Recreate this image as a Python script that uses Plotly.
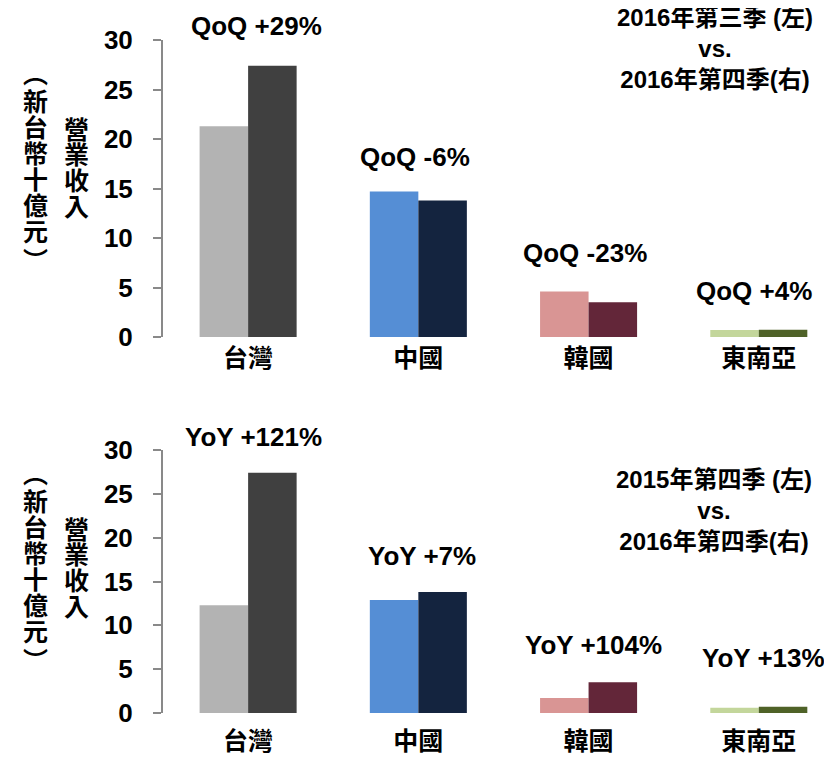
import plotly.graph_objects as go

categories = ["台灣", "中國", "韓國", "東南亞"]

# Top chart: 2016 Q3 (left) vs 2016 Q4 (right)
qoq_left = [21.3, 14.7, 4.6, 0.7]
qoq_right = [27.4, 13.8, 3.5, 0.72]
qoq_labels = ["QoQ +29%", "QoQ -6%", "QoQ -23%", "QoQ +4%"]

# Bottom chart: 2015 Q4 (left) vs 2016 Q4 (right)
yoy_left = [12.3, 12.9, 1.7, 0.6]
yoy_right = [27.4, 13.8, 3.5, 0.72]
yoy_labels = ["YoY +121%", "YoY +7%", "YoY +104%", "YoY +13%"]

yticks = [0, 5, 10, 15, 20, 25, 30]

left_colors = ["#b3b3b3", "#558ed5", "#d99594", "#c3d69b"]
right_colors = ["#404040", "#14243f", "#632639", "#4f6228"]

# The page body has an 8px default margin; lay out in screen pixels and convert.
OFF = 8
W, H = 832 - OFF, 759 - OFF
SL = 163                 # screen x of the y axis
L = SL - OFF
PW = W - L               # plot width in px
FONT = "Liberation Sans, Arial, Noto Sans CJK TC, sans-serif"

def py(s):
    return 1 - (s - OFF) / H

def px(s):
    return (s - SL) / PW

fig = go.Figure()
for lv, rv, xa, ya in [(qoq_left, qoq_right, "x", "y"), (yoy_left, yoy_right, "x2", "y2")]:
    fig.add_trace(go.Bar(x=categories, y=lv, marker=dict(color=left_colors, line=dict(width=0)),
                         xaxis=xa, yaxis=ya, showlegend=False, hoverinfo="skip"))
    fig.add_trace(go.Bar(x=categories, y=rv, marker=dict(color=right_colors, line=dict(width=0)),
                         xaxis=xa, yaxis=ya, showlegend=False, hoverinfo="skip"))

yax = dict(range=[0, 30], tickvals=yticks, showgrid=False, zeroline=False, automargin=False,
           showline=True, linecolor="#898989", linewidth=2,
           ticks="outside", ticklen=8, tickcolor="#898989", tickwidth=2,
           tickfont=dict(family=FONT, size=26, color="black", weight="bold"),
           ticklabelstandoff=15)
xrange = [-0.5, 3.43]
xax = dict(range=xrange, showgrid=False, zeroline=False, showline=False, ticks="",
           automargin=False,
           tickfont=dict(family=FONT, size=25, color="black", weight="bold"))

fig.update_layout(
    width=W, height=H,
    margin=dict(l=L, r=0, t=0, b=0),
    paper_bgcolor="white", plot_bgcolor="white",
    barmode="group", bargap=0.43, bargroupgap=0,
    xaxis=dict(xax, domain=[0, 1], anchor="y", ticklabelstandoff=4),
    yaxis=dict(yax, domain=[py(337), py(40)], anchor="x"),
    xaxis2=dict(xax, domain=[0, 1], anchor="y2", ticklabelstandoff=11),
    yaxis2=dict(yax, domain=[py(713), py(450)], anchor="x2"),
)

annfont = dict(family=FONT, size=26, color="black", weight="bold")
qoq_pos = [(0.05, 31.4), (0.98, 18.2), (1.98, 8.5), (2.97, 4.6)]
yoy_pos = [(0.03, 31.5), (1.02, 17.9), (2.03, 7.8), (3.03, 6.3)]
# Labels (some above the axis range) placed in paper coordinates, converted from axis scale
items = [(p, t, 40, 337) for p, t in zip(qoq_pos, qoq_labels)] + \
        [(p, t, 450, 713) for p, t in zip(yoy_pos, yoy_labels)]
for (x, y), t, top, bot in items:
    s_y = bot - (bot - top) * y / 30.0
    xf = (x - xrange[0]) / (xrange[1] - xrange[0])
    fig.add_annotation(x=xf, y=py(s_y), xref="paper", yref="paper", text=t,
                       showarrow=False, font=annfont, xanchor="center", yanchor="middle")

# Period notes
notefont = dict(family=FONT, size=24, color="black", weight="bold")
fig.add_annotation(x=px(715), y=py(48), xref="paper", yref="paper",
                   text="2016年第三季 (左)<br>vs.<br>2016年第四季(右)", showarrow=False,
                   font=notefont, align="center", xanchor="center", yanchor="middle",
                   borderpad=0)
fig.add_annotation(x=px(714), y=py(510), xref="paper", yref="paper",
                   text="2015年第四季 (左)<br>vs.<br>2016年第四季(右)", showarrow=False,
                   font=notefont, align="center", xanchor="center", yanchor="middle",
                   borderpad=0)

# Vertical axis titles, one character per line
title1 = ["營", "業", "收", "入"]
title1_y = [128, 153, 179, 205]
title2 = ["︵", "新", "台", "幣", "十", "億", "元", "︶"]
title2_y = [72, 100, 126, 152, 178, 204, 230, 259]
tfont = dict(family="Noto Sans CJK TC, sans-serif", size=25, color="black", weight="bold")
for off in [0, 400]:
    for ch, yy in zip(title1, title1_y):
        fig.add_annotation(x=px(76), y=py(yy + off), xref="paper", yref="paper", text=ch,
                           showarrow=False, font=tfont, xanchor="center", yanchor="middle",
                           borderpad=0)
    for ch, yy in zip(title2, title2_y):
        fig.add_annotation(x=px(36), y=py(yy + off), xref="paper", yref="paper", text=ch,
                           showarrow=False, font=tfont, xanchor="center", yanchor="middle",
                           borderpad=0)

fig.write_html("out.html")
